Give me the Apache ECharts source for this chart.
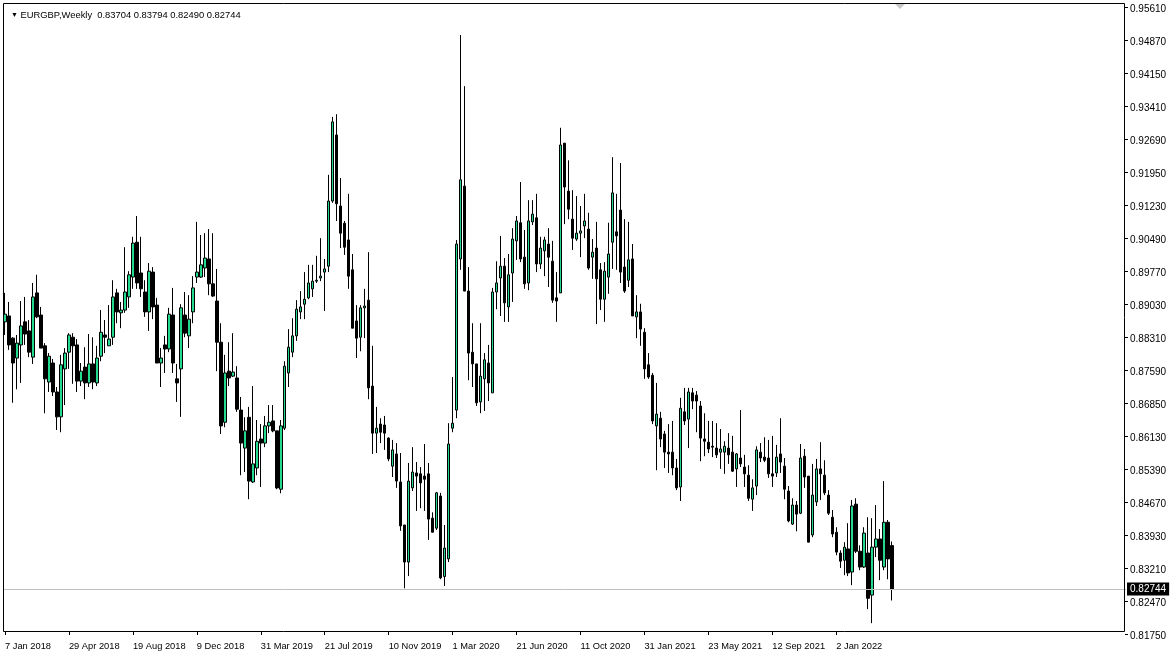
<!DOCTYPE html>
<html><head><meta charset="utf-8">
<script src="https://cdn.jsdelivr.net/npm/echarts@6/dist/echarts.min.js"></script>
<style>html,body{margin:0;padding:0;background:#fff}#c{width:1174px;height:660px}</style>
</head><body><div id="c"></div>
<script>
const symbolName = 'EURGBP';
const timeframe = 'Weekly';
const firstWeekUTC = [2018, 0, 7];
const openValues = [
.8865,.8878,.8829,.8785,.8814,.8865,.8845,.8787,.8929,.8880,
.8812,.8732,.8774,.8710,.8655,.8761,.8798,.8831,.8814,.8734,
.8765,.8730,.8772,.8730,.8789,.8836,.8812,.8831,.8929,.8885,
.8891,.8920,.8964,.9041,.8973,.8931,.8887,.8975,.8902,.8774,
.8814,.8805,.8880,.8739,.8761,.8880,.8834,.8887,.8964,.8964,
.8984,.9004,.8949,.8911,.8820,.8643,.8756,.8745,.8741,.8670,
.8586,.8654,.8511,.8542,.8606,.8597,.8635,.8646,.8624,.8495,
.8630,.8752,.8798,.8834,.8887,.8904,.8918,.8938,.8955,.8962,
.8975,.8988,.9132,.9278,.9121,.9083,.9046,.8980,.8867,.8831,
.8896,.8913,.8723,.8619,.8639,.8637,.8608,.8546,.8573,.8511,
.8416,.8334,.8498,.8531,.8529,.8524,.8529,.8431,.8409,.8480,
.8302,.8341,.8630,.8670,.9004,.9165,.8933,.8798,.8772,.8688,
.8739,.8774,.8708,.8931,.8962,.8988,.8898,.8973,.9044,.9084,
.9008,.8951,.9086,.9095,.8993,.9022,.9037,.8999,.8918,.8929,
.9260,.9154,.9092,.9048,.9061,.9077,.9070,.9008,.9028,.8980,
.8915,.8964,.9041,.9064,.9112,.8986,.8957,.9004,.8876,.8887,
.8842,.8770,.8747,.8635,.8652,.8617,.8577,.8577,.8542,.8500,
.8666,.8650,.8708,.8703,.8679,.8606,.8599,.8590,.8586,.8577,
.8577,.8586,.8577,.8540,.8564,.8544,.8526,.8473,.8502,.8577,
.8566,.8564,.8529,.8531,.8573,.8546,.8491,.8418,.8460,.8442,
.8568,.8524,.8394,.8467,.8540,.8526,.8482,.8433,.8400,.8354,
.8338,.8363,.8312,.8462,.8358,.8323,.8354,.8261,.8367,.8385,
.8323,.8422,.83704];
const highValues = [
.8929,.8909,.8831,.8836,.8911,.8920,.8869,.8951,.8969,.8898,
.8818,.8796,.8783,.8721,.8792,.8807,.8840,.8840,.8827,.8774,
.8809,.8838,.8831,.8812,.8891,.8869,.8902,.8957,.8938,.8909,
.9030,.8977,.9053,.9099,.9053,.8957,.8995,.8986,.8918,.8807,
.8834,.8896,.8940,.8772,.8904,.8931,.8924,.8966,.9086,.9057,
.9061,.9070,.9061,.8982,.8862,.8792,.8820,.8840,.8767,.8699,
.8654,.8677,.8723,.8648,.8639,.8657,.8681,.8681,.8624,.8648,
.8778,.8849,.8873,.8913,.8933,.8975,.8991,.8991,.9011,.9050,
.9004,.9190,.9318,.9324,.9183,.9088,.9148,.9015,.8902,.8902,
.8938,.9019,.8812,.8677,.8652,.8657,.8610,.8604,.8597,.8575,
.8416,.8553,.8588,.8555,.8544,.8595,.8553,.8444,.8489,.8487,
.8416,.8641,.8743,.9046,.9499,.9386,.8986,.8862,.8772,.8862,
.8796,.8814,.8940,.8999,.9055,.9006,.9015,.9072,.9099,.9174,
.9068,.9134,.9134,.9148,.9053,.9053,.9072,.9044,.8975,.9294,
.9260,.9222,.9156,.9143,.9121,.9148,.9106,.9048,.9086,.8995,
.8997,.9084,.9229,.9148,.9216,.9092,.9086,.9037,.8924,.8905,
.8851,.8796,.8752,.8730,.8666,.8624,.8639,.8646,.8562,.8697,
.8719,.8719,.8719,.8712,.8690,.8663,.8646,.8646,.8641,.8628,
.8601,.8619,.8613,.8575,.8670,.8571,.8548,.8517,.8590,.8597,
.8610,.8604,.8613,.8593,.8652,.8564,.8502,.8475,.8469,.8595,
.8584,.8524,.8551,.8562,.8599,.8559,.8493,.8449,.8411,.8360,
.8378,.8420,.8471,.8475,.8371,.8411,.8433,.8431,.8460,.8407,
.8513,.8427,.83794];
const lowValues = [
.8836,.8803,.8686,.8716,.8730,.8814,.8787,.8772,.8873,.8807,
.8663,.8710,.8701,.8626,.8621,.8681,.8761,.8728,.8710,.8723,
.8694,.8721,.8716,.8723,.8778,.8796,.8812,.8814,.8862,.8851,
.8885,.8896,.8938,.8938,.8920,.8876,.8845,.8871,.8774,.8721,
.8752,.8798,.8752,.8688,.8655,.8831,.8807,.8862,.8951,.8962,
.8964,.8924,.8920,.8756,.8617,.8632,.8723,.8743,.8666,.8526,
.8533,.8473,.8509,.8526,.8500,.8588,.8619,.8621,.8495,.8486,
.8626,.8721,.8787,.8823,.8871,.8871,.8915,.8920,.8951,.8955,
.8889,.8975,.9128,.9088,.9028,.9013,.8938,.8851,.8785,.8800,
.8829,.8694,.8573,.8575,.8597,.8582,.8557,.8522,.8498,.8403,
.8276,.8303,.8491,.8447,.8453,.8447,.8383,.8400,.8405,.8296,
.8281,.8334,.8621,.8652,.8980,.9002,.8736,.8721,.8679,.8663,
.8668,.8690,.8708,.8893,.8878,.8865,.8865,.8909,.9002,.8997,
.8938,.8935,.9079,.8975,.8982,.8966,.8942,.8907,.8865,.8929,
.9081,.9092,.9024,.9044,.9008,.9050,.8980,.8960,.8860,.8891,
.8865,.8927,.8982,.8980,.8951,.8929,.8942,.8878,.8829,.8812,
.8739,.8739,.8639,.8537,.8588,.8542,.8531,.8526,.8493,.8469,
.8637,.8586,.8672,.8621,.8557,.8568,.8575,.8566,.8564,.8540,
.8529,.8551,.8533,.8500,.8544,.8500,.8469,.8447,.8482,.8555,
.8555,.8520,.8500,.8522,.8531,.8473,.8422,.8416,.8402,.8440,
.8498,.8378,.8389,.8458,.8471,.8482,.8438,.8389,.8349,.8321,
.8305,.8303,.8283,.8354,.8316,.8321,.8230,.8199,.8345,.8294,
.8316,.8296,.82490];
const closeValues = [
.8882,.8814,.8774,.8818,.8856,.8838,.8798,.8920,.8876,.8807,
.8739,.8789,.8710,.8655,.8770,.8796,.8836,.8812,.8734,.8756,
.8730,.8772,.8732,.8785,.8842,.8831,.8827,.8920,.8887,.8891,
.8931,.8969,.9039,.8951,.8938,.8887,.8977,.8898,.8774,.8785,
.8805,.8882,.8774,.8730,.8896,.8840,.8871,.8940,.8975,.8991,
.9006,.8949,.8922,.8820,.8635,.8752,.8741,.8754,.8672,.8597,
.8624,.8513,.8551,.8601,.8597,.8635,.8643,.8624,.8498,.8635,
.8767,.8809,.8834,.8893,.8898,.8915,.8951,.8955,.8957,.8966,
.8982,.9132,.9307,.9126,.9061,.9030,.8966,.8851,.8829,.8896,
.8900,.8719,.8619,.8630,.8621,.8619,.8562,.8582,.8513,.8414,
.8334,.8513,.8533,.8524,.8509,.8517,.8429,.8400,.8487,.8299,
.8365,.8595,.8641,.9037,.9179,.8933,.8796,.8772,.8686,.8745,
.8781,.8730,.8931,.8951,.8988,.8907,.8969,.9048,.9088,.9004,
.8949,.9088,.9103,.8993,.9028,.9046,.9008,.8913,.8911,.9256,
.9163,.9114,.9050,.9061,.9066,.9088,.8984,.9019,.8960,.8915,
.8977,.9015,.9150,.9055,.8975,.8933,.9002,.8878,.8887,.8849,
.8761,.8743,.8646,.8661,.8606,.8577,.8573,.8542,.8498,.8674,
.8646,.8710,.8690,.8690,.8608,.8601,.8584,.8588,.8571,.8584,
.8590,.8571,.8535,.8573,.8551,.8529,.8475,.8498,.8582,.8564,
.8559,.8529,.8524,.8566,.8555,.8495,.8425,.8460,.8440,.8564,
.8522,.8378,.8482,.8540,.8529,.8487,.8442,.8396,.8356,.8336,
.8367,.8310,.8458,.8358,.8323,.8398,.8254,.8367,.8385,.8338,
.8422,.8341,.82744];
const priceTickLabels = [0.95610,0.94870,0.94150,0.93410,0.92690,0.91950,0.91230,0.90490,0.89770,0.89030,
  0.88310,0.87590,0.86850,0.86130,0.85390,0.84670,0.83930,0.83210,0.82470,0.81750];
const dateLabelEvery = 16;
const emptyBarsRight = 58;

const monthNames = ['Jan','Feb','Mar','Apr','May','Jun','Jul','Aug','Sep','Oct','Nov','Dec'];
const nBars = openValues.length;
const categories = [];
const t0 = Date.UTC(firstWeekUTC[0], firstWeekUTC[1], firstWeekUTC[2]);
for (let i = 0; i < nBars + emptyBarsRight; i++) {
  const d = new Date(t0 + i * 7 * 86400000);
  categories.push(d.getUTCDate() + ' ' + monthNames[d.getUTCMonth()] + ' ' + d.getUTCFullYear());
}
const candleData = openValues.map((o, i) => [o, closeValues[i], lowValues[i], highValues[i]]);
const last = nBars - 1;
const fmt = v => v.toFixed(5);
const headerText = '{t|▼} ' + symbolName + ',' + timeframe + '  ' +
  [openValues[last], highValues[last], lowValues[last], closeValues[last]].map(fmt).join(' ');
const showDate = idx => idx % dateLabelEvery === 0 && idx < nBars;
const FONT = 'Liberation Sans';

const chart = echarts.init(document.getElementById('c'), null, {renderer: 'canvas'});
chart.setOption({
  animation: false,
  backgroundColor: '#ffffff',
  title: {
    text: headerText, left: 6, top: 6,
    textStyle: {fontFamily: FONT, fontSize: 9.4, fontWeight: 'normal', color: '#000',
      rich: {t: {fontSize: 7, color: '#000'}}}
  },
  grid: {left: 3, top: 3, right: 48, bottom: 26, show: false},
  xAxis: {
    type: 'category', data: categories, boundaryGap: true, offset: -2,
    axisLine: {show: false},
    axisTick: {show: true, alignWithLabel: true, interval: showDate, length: 3, lineStyle: {color: '#000'}},
    axisLabel: {interval: showDate, align: 'left', margin: 10, fontFamily: FONT, fontSize: 9.3, color: '#000'},
    splitLine: {show: false}
  },
  yAxis: {
    type: 'value', position: 'right', min: 0.8175, max: 0.95698, scale: true, offset: -1,
    axisLine: {show: false},
    splitLine: {show: false},
    axisTick: {show: true, customValues: priceTickLabels, length: 3, lineStyle: {color: '#000'}},
    axisLabel: {customValues: priceTickLabels, formatter: v => fmt(v), margin: 5,
      verticalAlign: 'top', lineHeight: 4, fontFamily: FONT, fontSize: 10, color: '#000'}
  },
  series: [{
    type: 'candlestick',
    data: candleData,
    barWidth: 3,
    itemStyle: {color: '#22d98e', color0: '#000000', borderColor: '#000000', borderColor0: '#000000', borderWidth: 1},
    markLine: {
      silent: true, symbol: 'none', animation: false, precision: 5,
      lineStyle: {color: '#c0c0c0', type: 'solid', width: 1},
      label: {show: true, position: 'end', distance: 1, formatter: fmt(closeValues[last]),
        backgroundColor: '#000', color: '#fff', padding: [2, 3, 1, 3], fontFamily: FONT, fontSize: 10},
      data: [{yAxis: closeValues[last]}]
    }
  }],
  graphic: [{
    type: 'rect', z: 50, silent: true,
    shape: {x: 3.5, y: 3.5, width: 1121, height: 628},
    style: {fill: null, stroke: '#000', lineWidth: 1}
  }, {
    type: 'polygon', z: 100,
    shape: {points: [[895, 4], [905, 4], [900, 9]]},
    style: {fill: '#c8c8c8'}
  }]
});
</script></body></html>
